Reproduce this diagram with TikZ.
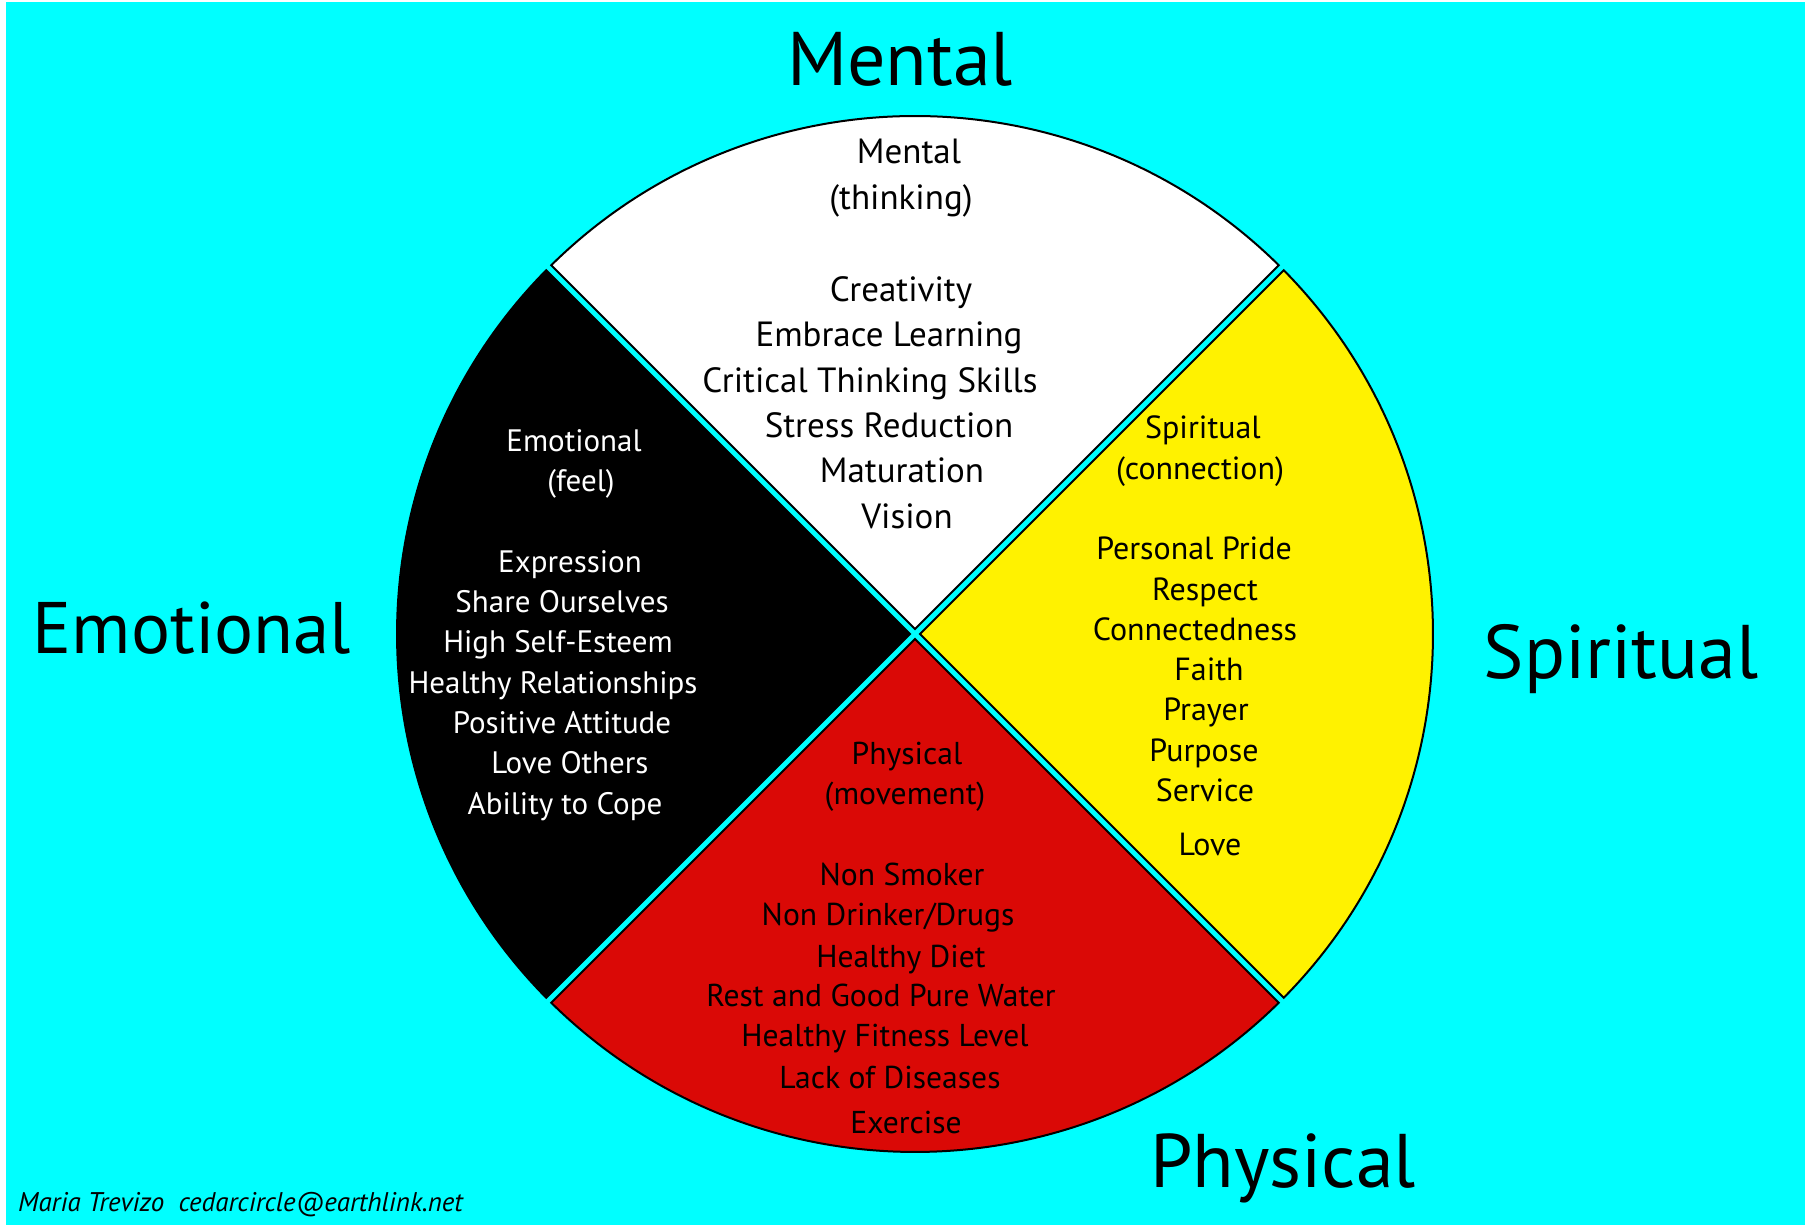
\documentclass[tikz,border=0pt]{standalone}
\usepackage{fontspec}
\setmainfont{PT Sans}
\usetikzlibrary{calc}
\definecolor{bgcyan}{RGB}{0,255,255}
\definecolor{wyellow}{RGB}{255,242,0}
\definecolor{wred}{RGB}{218,9,6}
\tikzset{
  wedge/.style={draw=black, line width=2pt, line join=miter},
  title/.style={anchor=base, inner sep=0pt, font=\fontsize{76}{90}\selectfont},
  wtxt/.style={anchor=base, inner sep=0pt, font=\fontsize{35}{42}\selectfont, text=black},
  etxt/.style={anchor=base, inner sep=0pt, font=\fontsize{31}{37}\selectfont, text=white},
  stxt/.style={anchor=base, inner sep=0pt, font=\fontsize{32}{38}\selectfont, text=black},
  ptxt/.style={anchor=base, inner sep=0pt, font=\fontsize{31.6}{38}\selectfont, text=black},
}
\begin{document}
\begin{tikzpicture}[x=1pt,y=1pt]
\useasboundingbox (0,0) rectangle (1805,1228);
\fill[white] (0,0) rectangle (1805,1228);
\fill[bgcyan] (6,3) rectangle (1805,1226);
\coordinate (C) at (915,594);
\def\R{518pt}
\def\dl{0.387}
\def\tp{4.95}
% wedges
\draw[wedge, fill=white] ($(C)+(0,\tp)$) -- ($(C)+(45+\dl:\R)$) arc[start angle=45+\dl, end angle=135-\dl, radius=\R] -- cycle;
\draw[wedge, fill=black] ($(C)+(-\tp,0)$) -- ($(C)+(135+\dl:\R)$) arc[start angle=135+\dl, end angle=225-\dl, radius=\R] -- cycle;
\draw[wedge, fill=wred] ($(C)+(0,-\tp)$) -- ($(C)+(225+\dl:\R)$) arc[start angle=225+\dl, end angle=315-\dl, radius=\R] -- cycle;
\draw[wedge, fill=wyellow] ($(C)+(\tp,0)$) -- ($(C)+(-45+\dl:\R)$) arc[start angle=-45+\dl, end angle=45-\dl, radius=\R] -- cycle;
% titles
\node[title] (tm) at (900,1142) {Mental};
\node[title, font=\fontsize{73}{88}\selectfont] (te) at (192,574) {Emotional};
\node[title] (ts) at (1621,549) {Spiritual};
\node[title] (tp) at (1283,40) {Physical};
% mental
\node[wtxt] (m1) at (909,1064) {Mental};
\node[wtxt] (m2) at (901,1018) {(thinking)};
\node[wtxt] (m3) at (901,926) {Creativity};
\node[wtxt] (m4) at (889,881) {Embrace Learning};
\node[wtxt] (m5) at (870,835) {Critical Thinking Skills};
\node[wtxt] (m6) at (889,790) {Stress Reduction};
\node[wtxt] (m7) at (902,745) {Maturation};
\node[wtxt] (m8) at (907,699) {Vision};
% emotional
\node[etxt] (e1) at (574,776) {Emotional};
\node[etxt] (e2) at (581,736) {(feel)};
\node[etxt] (e3) at (570,655) {Expression};
\node[etxt] (e4) at (562,615) {Share Ourselves};
\node[etxt] (e5) at (558,575) {High Self-Esteem};
\node[etxt] (e6) at (553,534) {Healthy Relationships};
\node[etxt] (e7) at (562,494) {Positive Attitude};
\node[etxt] (e8) at (570,454) {Love Others};
\node[etxt] (e9) at (565,413) {Ability to Cope};
% spiritual
\node[stxt] (s1) at (1203,789) {Spiritual};
\node[stxt] (s2) at (1200,748) {(connection)};
\node[stxt] (s3) at (1194,668) {Personal Pride};
\node[stxt] (s4) at (1205,627) {Respect};
\node[stxt] (s5) at (1195,587) {Connectedness};
\node[stxt] (s6) at (1209,547) {Faith};
\node[stxt] (s7) at (1206,507) {Prayer};
\node[stxt] (s8) at (1204,466) {Purpose};
\node[stxt] (s9) at (1205,426) {Service};
\node[stxt] (s10) at (1210,372) {Love};
% physical
\node[ptxt] (p1) at (907,463) {Physical};
\node[ptxt] (p2) at (905,423) {(movement)};
\node[ptxt] (p3) at (902,342) {Non Smoker};
\node[ptxt] (p4) at (888,302) {Non Drinker/Drugs};
\node[ptxt] (p5) at (901,260) {Healthy Diet};
\node[ptxt] (p6) at (881,221) {Rest and Good Pure Water};
\node[ptxt] (p7) at (885,181) {Healthy Fitness Level};
\node[ptxt] (p8) at (890,139) {Lack of Diseases};
\node[ptxt] (p9) at (906,94) {Exercise};
% footer
\node[anchor=base west, inner sep=0pt, font=\fontsize{27}{32}\selectfont\itshape] (ft) at (18,16) {Maria Trevizo\ \ cedarcircle@earthlink.net};
\end{tikzpicture}
\end{document}
